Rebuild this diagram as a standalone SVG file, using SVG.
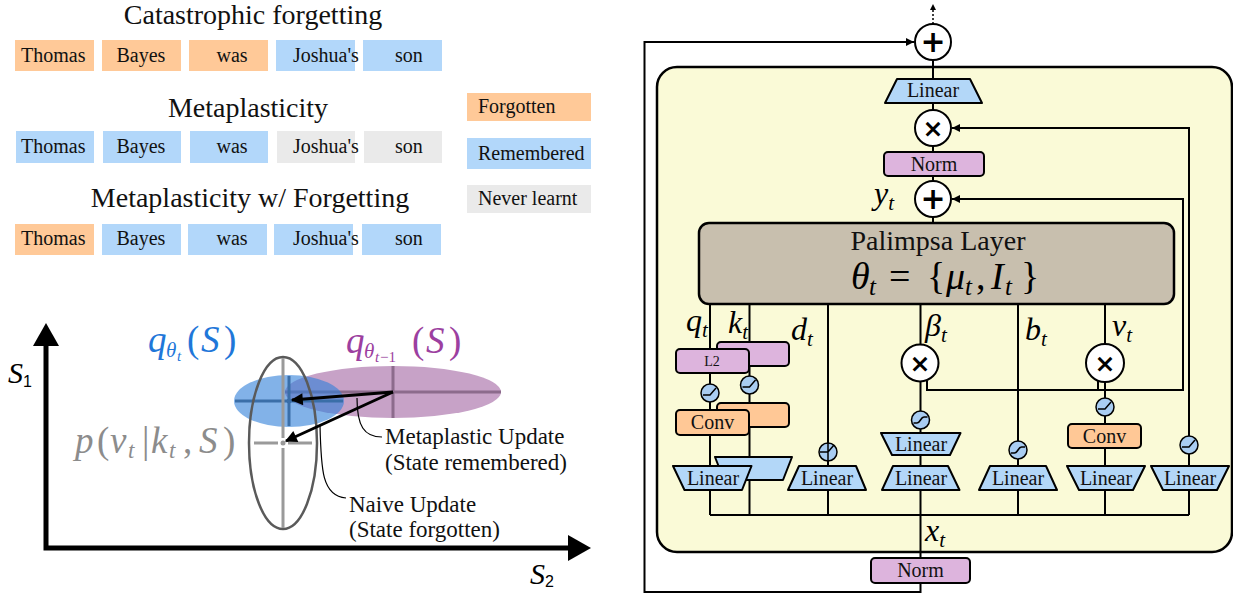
<svg xmlns="http://www.w3.org/2000/svg" width="1233" height="596" viewBox="0 0 1233 596">
<style>
.t{font-size:20px;fill:#111}
.ttl{font-size:28px;fill:#111;text-anchor:middle}
.or{fill:#FFC998}.bl{fill:#B2D7FA}.gr{fill:#EAEAEA}
.ln{stroke:#000;stroke-width:2;fill:none}
.lin{fill:#B3D7F8;stroke:#000;stroke-width:2;stroke-linejoin:round}
.nrm{fill:#DDB4DD;stroke:#000;stroke-width:2}
.cnv{fill:#FFC896;stroke:#000;stroke-width:2}
.op{fill:#fff;stroke:#000;stroke-width:2}
.act{fill:#A9CDF2;stroke:#000;stroke-width:1.5}
.gl{stroke:#000;stroke-width:1.5;fill:none}
.lb{font-size:20px;text-anchor:middle;fill:#111}
.sym{font-weight:bold;text-anchor:middle;fill:#000}
</style>
<defs>
<marker id="ah" viewBox="0 0 10 10" refX="10" refY="5" markerWidth="9" markerHeight="8" markerUnits="userSpaceOnUse" orient="auto"><path d="M0,0 L10,5 L0,10 z" fill="#000"/></marker>
<marker id="ahs" viewBox="0 0 10 10" refX="10" refY="5" markerWidth="6" markerHeight="6" markerUnits="userSpaceOnUse" orient="auto"><path d="M0,0 L10,5 L0,10 z" fill="#000"/></marker>
<marker id="ahb" viewBox="0 0 10 10" refX="9" refY="5" markerWidth="15" markerHeight="12" markerUnits="userSpaceOnUse" orient="auto"><path d="M0,0 L10,5 L0,10 z" fill="#000"/></marker>
</defs>

<!-- ===== Left: token rows ===== -->
<g id="title1"><text class="ttl" style="font-family:'Liberation Serif',serif" x="253" y="24">Catastrophic forgetting</text></g>
<g id="row1">
<rect class="or" x="15" y="40" width="79" height="31"/><rect class="or" x="102" y="40" width="79" height="31"/><rect class="or" x="189" y="40" width="79" height="31"/><rect class="bl" x="276" y="40" width="79" height="31"/><rect class="bl" x="363" y="40" width="79" height="31"/>
<text class="t" style="font-family:'Liberation Serif',serif" x="21" y="62">Thomas</text><text class="t" style="font-family:'Liberation Serif',serif" x="116.5" y="62">Bayes</text><text class="t" style="font-family:'Liberation Serif',serif" x="216.5" y="62">was</text><text class="t" style="font-family:'Liberation Serif',serif" x="293" y="62">Joshua's</text><text class="t" style="font-family:'Liberation Serif',serif" x="395" y="62">son</text>
</g>
<g id="title2"><text class="ttl" style="font-family:'Liberation Serif',serif" x="248" y="117">Metaplasticity</text></g>
<g id="row2">
<rect class="bl" x="16" y="131" width="78" height="32"/><rect class="bl" x="103" y="131" width="78" height="32"/><rect class="bl" x="190" y="131" width="78" height="32"/><rect class="gr" x="277" y="131" width="78" height="32"/><rect class="gr" x="364" y="131" width="78" height="32"/>
<text class="t" style="font-family:'Liberation Serif',serif" x="21" y="153">Thomas</text><text class="t" style="font-family:'Liberation Serif',serif" x="116.5" y="153">Bayes</text><text class="t" style="font-family:'Liberation Serif',serif" x="216.5" y="153">was</text><text class="t" style="font-family:'Liberation Serif',serif" x="293" y="153">Joshua's</text><text class="t" style="font-family:'Liberation Serif',serif" x="395" y="153">son</text>
</g>
<g id="title3"><text class="ttl" style="font-family:'Liberation Serif',serif" x="250" y="207">Metaplasticity w/ Forgetting</text></g>
<g id="row3">
<rect class="or" x="15" y="224" width="79" height="31"/><rect class="bl" x="102" y="224" width="79" height="31"/><rect class="bl" x="188" y="224" width="79" height="31"/><rect class="bl" x="274" y="224" width="79" height="31"/><rect class="bl" x="362" y="224" width="79" height="31"/>
<text class="t" style="font-family:'Liberation Serif',serif" x="21" y="245">Thomas</text><text class="t" style="font-family:'Liberation Serif',serif" x="116.5" y="245">Bayes</text><text class="t" style="font-family:'Liberation Serif',serif" x="216.5" y="245">was</text><text class="t" style="font-family:'Liberation Serif',serif" x="293" y="245">Joshua's</text><text class="t" style="font-family:'Liberation Serif',serif" x="395" y="245">son</text>
</g>
<g id="legend">
<rect class="or" x="467" y="93" width="124" height="28"/><text class="t" style="font-family:'Liberation Serif',serif" x="478" y="113">Forgotten</text>
<rect class="bl" x="467" y="138" width="124" height="31"/><text class="t" style="font-family:'Liberation Serif',serif" x="478" y="160">Remembered</text>
<rect class="gr" x="467" y="185" width="124" height="28"/><text class="t" style="font-family:'Liberation Serif',serif" x="478" y="205">Never learnt</text>
</g>

<!-- ===== Left: plot ===== -->
<g id="axes">
<path d="M46,346 V548 H568" stroke="#000" stroke-width="5" fill="none"/>
<polygon points="46,323 33,346 59,346" fill="#000"/>
<polygon points="591,548 568,535 568,561" fill="#000"/>
<text style="font-family:'Liberation Serif',serif;font-style:italic" x="8" y="383" font-size="30">S<tspan style="font-family:'Liberation Sans',sans-serif;font-style:normal" font-size="16" dy="4">1</tspan></text>
<text style="font-family:'Liberation Serif',serif;font-style:italic" x="530" y="584" font-size="30">S<tspan style="font-family:'Liberation Sans',sans-serif;font-style:normal" font-size="16" dy="3">2</tspan></text>
</g>
<g id="q_prev">
<ellipse cx="393" cy="392" rx="108" ry="26" fill="#C7A2C7"/>
<path d="M285,392 H501 M393,366 V418" stroke="#8C6B8C" stroke-width="3"/>
</g>
<g id="q_t">
<ellipse cx="289" cy="401" rx="55" ry="26" fill="#2E7FD9" fill-opacity="0.6"/>
<path d="M235,401 H343 M289,376 V426" stroke="#3A6EA8" stroke-width="3"/>
<circle cx="289" cy="401" r="2.5" fill="#3A6EA8"/>
</g>
<g id="likelihood">
<ellipse cx="283" cy="443" rx="34" ry="86" fill="none" stroke="#5A5A5A" stroke-width="2.5"/>
<path d="M283,358 V438 M283,448 V528 M254,443 H278 M288,443 H312" stroke="#9A9A9A" stroke-width="3"/>
<circle cx="283" cy="443" r="2.5" fill="#9A9A9A"/>
</g>
<g id="plot-labels">
<text style="font-family:'Liberation Serif',serif;font-style:italic" y="352" font-size="37" fill="#1F77D9"><tspan x="148">q</tspan><tspan x="166" font-size="21" dy="5">θ</tspan><tspan x="177" font-size="15" dy="4">t</tspan><tspan style="font-style:normal" x="187" dy="-9">(</tspan><tspan x="201">S</tspan><tspan style="font-style:normal" x="224">)</tspan></text>
<text style="font-family:'Liberation Serif',serif;font-style:italic" y="353" font-size="37" fill="#9C3FA0"><tspan x="346">q</tspan><tspan x="364" font-size="21" dy="5">θ</tspan><tspan x="375" font-size="15" dy="4">t</tspan><tspan style="font-style:normal" x="380" font-size="15">−1</tspan><tspan style="font-style:normal" x="412" dy="-9">(</tspan><tspan x="426">S</tspan><tspan style="font-style:normal" x="449">)</tspan></text>
<text style="font-family:'Liberation Serif',serif;font-style:italic" y="453" font-size="37" fill="#8C8C8C"><tspan x="75">p</tspan><tspan style="font-style:normal" x="97">(</tspan><tspan x="110">v</tspan><tspan x="128" font-size="23" dy="5">t</tspan><tspan style="font-style:normal" x="142" dy="-5">|</tspan><tspan x="151">k</tspan><tspan x="169" font-size="23" dy="5">t</tspan><tspan style="font-style:normal" x="183" dy="-5">,</tspan><tspan x="199">S</tspan><tspan style="font-style:normal" x="223">)</tspan></text>
<text class="t" style="font-family:'Liberation Serif',serif;font-size:23px" x="385" y="444">Metaplastic Update</text>
<text class="t" style="font-family:'Liberation Serif',serif;font-size:23px" x="385" y="470">(State remembered)</text>
<text class="t" style="font-family:'Liberation Serif',serif;font-size:23px" x="349" y="512">Naive Update</text>
<text class="t" style="font-family:'Liberation Serif',serif;font-size:23px" x="349" y="537">(State forgotten)</text>
</g>
<g id="plot-connectors">
<line x1="393" y1="392" x2="292" y2="400" stroke="#000" stroke-width="3" marker-end="url(#ahb)"/>
<line x1="393" y1="392" x2="286" y2="441" stroke="#000" stroke-width="3" marker-end="url(#ahb)"/>
<path d="M357,398 C357,426 364,437 382,437" stroke="#000" stroke-width="1.2" fill="none"/>
<path d="M320,425 C321,470 322,496 346,498" stroke="#000" stroke-width="1.2" fill="none"/>
</g>

<!-- ===== Right: architecture ===== -->
<g id="panel"><rect x="657" y="67" width="575" height="485" rx="20" fill="#FAFAD7" stroke="#000" stroke-width="2.5"/></g>

<g id="connectors">
<path class="ln" d="M920.5,583 V592 H644.5 V42 H914" stroke-width="1.8" marker-end="url(#ah)"/>
<line x1="933" y1="24" x2="933" y2="4" stroke="#000" stroke-width="1.5" stroke-dasharray="2,2" marker-end="url(#ahs)"/>
<path class="ln" d="M933,60 V79 M933,103 V110 M933,146 V152 M933,176 V181 M933,217 V223"/>
<path class="ln" d="M1189,436 V128 H952" marker-end="url(#ah)"/>
<path class="ln" d="M927,381 V390 H1183 V199 H952" marker-end="url(#ah)"/>
<path class="ln" d="M1098,381 V390"/>
<path class="ln" d="M749.5,304 V342 M749.5,366 V376 M749.5,394 V403 M749.5,427 V457 M749.5,480 V515"/>
<path class="ln" d="M710,304 V349 M710,373 V384 M710,402 V410 M710,435 V466 M710,490 V515"/>
<path class="ln" d="M828,304 V515"/>
<path class="ln" d="M920.5,304 V345 M920.5,382 V411 M920.5,429 V433 M920.5,455 V466 M920.5,490 V558"/>
<path class="ln" d="M1018,304 V515"/>
<path class="ln" d="M1105,304 V344 M1105,382 V398 M1105,416 V424 M1105,448 V466 M1105,490 V515"/>
<path class="ln" d="M1189,454 V466 M1189,490 V515"/>
<path class="ln" d="M710,515 H1189"/>
</g>

<g id="out-plus"><circle class="op" cx="933" cy="42" r="18"/><text class="sym" style="font-family:'DejaVu Sans',sans-serif" x="933" y="52" font-size="30">+</text></g>
<g id="out-linear"><polygon class="lin" points="897,79 970,79 982,103 885,103"/><text class="lb" style="font-family:'Liberation Serif',serif" x="933" y="97">Linear</text></g>
<g id="gate-mul"><circle class="op" cx="933" cy="128" r="18"/><text class="sym" style="font-family:'DejaVu Sans',sans-serif" x="933" y="137" font-size="25">×</text></g>
<g id="out-norm"><rect class="nrm" x="884" y="152" width="100" height="24" rx="4"/><text class="lb" style="font-family:'Liberation Serif',serif" x="934" y="171">Norm</text></g>
<g id="y-plus"><circle class="op" cx="933" cy="199" r="18"/><text class="sym" style="font-family:'DejaVu Sans',sans-serif" x="933" y="209" font-size="30">+</text>
<text style="font-family:'Liberation Serif',serif;font-style:italic" x="874" y="204" font-size="32">y<tspan font-size="21" dy="6">t</tspan></text></g>
<g id="palimpsa">
<rect x="699" y="223" width="475" height="81" rx="10" fill="#C8BFAE" stroke="#000" stroke-width="2.5"/>
<text class="ttl" style="font-family:'Liberation Serif',serif" x="938" y="250">Palimpsa Layer</text>
<text style="font-family:'Liberation Serif',serif;font-style:italic" y="289" font-size="38"><tspan x="851">θ</tspan><tspan x="869" font-size="25" dy="6">t</tspan><tspan style="font-style:normal" x="889" dy="-6">=</tspan><tspan style="font-style:normal" x="927">{</tspan><tspan x="946">μ</tspan><tspan x="965" font-size="25" dy="6">t</tspan><tspan style="font-style:normal" x="976" dy="-6">,</tspan><tspan x="991">I</tspan><tspan x="1005" font-size="25" dy="6">t</tspan><tspan style="font-style:normal" x="1021" dy="-6">}</tspan></text>
</g>

<g id="k-branch">
<text style="font-family:'Liberation Serif',serif;font-style:italic" x="728" y="333" font-size="32">k<tspan font-size="21" dy="6">t</tspan></text>
<rect class="nrm" x="717" y="342" width="72" height="24" rx="4"/>
<circle class="act" cx="749.5" cy="385" r="9"/><path class="gl" d="M742.5,387 H749.5 L755.5,380"/>
<rect class="cnv" x="717" y="403" width="72" height="24" rx="4"/>
<polygon class="lin" points="715,457 792,457 783,480 724,480"/>
</g>
<g id="q-branch">
<text style="font-family:'Liberation Serif',serif;font-style:italic" x="686" y="331" font-size="32">q<tspan font-size="21" dy="6">t</tspan></text>
<rect class="nrm" x="676" y="349" width="73" height="24" rx="4"/><text class="lb" style="font-family:'Liberation Serif',serif;font-size:14px" x="712" y="366">L2</text>
<circle class="act" cx="710" cy="393" r="9"/><path class="gl" d="M703,395 H710 L716,388"/>
<rect class="cnv" x="676" y="410" width="73" height="25" rx="4"/><text class="lb" style="font-family:'Liberation Serif',serif" x="712.5" y="429">Conv</text>
<polygon class="lin" points="673,466 751.5,466 742,490 684.5,490"/><text class="lb" style="font-family:'Liberation Serif',serif" x="713" y="485">Linear</text>
</g>
<g id="d-branch">
<text style="font-family:'Liberation Serif',serif;font-style:italic" x="791" y="340" font-size="32">d<tspan font-size="21" dy="6">t</tspan></text>
<circle class="act" cx="828" cy="452" r="9"/><path class="gl" d="M828,443 V461 M820,452 H828 L834,445"/>
<polygon class="lin" points="799,466 856,466 866,490 788,490"/><text class="lb" style="font-family:'Liberation Serif',serif" x="827" y="485">Linear</text>
</g>
<g id="beta-branch">
<text style="font-family:'Liberation Serif',serif;font-style:italic" x="925" y="336" font-size="32">β<tspan font-size="21" dy="6">t</tspan></text>
<circle class="op" cx="920" cy="363" r="18.5"/><text class="sym" style="font-family:'DejaVu Sans',sans-serif" x="920" y="372" font-size="25">×</text>
<circle class="act" cx="920.5" cy="420" r="9"/><path class="gl" d="M913.5,423 H917 C920.5,423 920.5,417 924,417 H927.5"/>
<polygon class="lin" points="881,433 960.5,433 950,455 892,455"/><text class="lb" style="font-family:'Liberation Serif',serif" x="921" y="451">Linear</text>
<polygon class="lin" points="893,466 948,466 959.5,490 882,490"/><text class="lb" style="font-family:'Liberation Serif',serif" x="921" y="485">Linear</text>
</g>
<g id="b-branch">
<text style="font-family:'Liberation Serif',serif;font-style:italic" x="1025" y="340" font-size="32">b<tspan font-size="21" dy="6">t</tspan></text>
<circle class="act" cx="1018" cy="450" r="9"/><path class="gl" d="M1011,453 H1014.5 C1018,453 1018,447 1021.5,447 H1025"/>
<polygon class="lin" points="990,466 1046,466 1057,490 979,490"/><text class="lb" style="font-family:'Liberation Serif',serif" x="1018" y="485">Linear</text>
</g>
<g id="v-branch">
<text style="font-family:'Liberation Serif',serif;font-style:italic" x="1112" y="336" font-size="32">v<tspan font-size="21" dy="6">t</tspan></text>
<circle class="op" cx="1105" cy="363" r="19"/><text class="sym" style="font-family:'DejaVu Sans',sans-serif" x="1105" y="372" font-size="25">×</text>
<circle class="act" cx="1105" cy="407" r="9"/><path class="gl" d="M1098,409 H1105 L1111,402"/>
<rect class="cnv" x="1068" y="424" width="73" height="24" rx="4"/><text class="lb" style="font-family:'Liberation Serif',serif" x="1104.5" y="443">Conv</text>
<polygon class="lin" points="1067,466 1145,466 1133,490 1079,490"/><text class="lb" style="font-family:'Liberation Serif',serif" x="1106" y="485">Linear</text>
</g>
<g id="gate-branch">
<circle class="act" cx="1189" cy="445" r="9"/><path class="gl" d="M1182,447 H1189 L1195,440"/>
<polygon class="lin" points="1151,466 1229,466 1217,490 1163,490"/><text class="lb" style="font-family:'Liberation Serif',serif" x="1190" y="485">Linear</text>
</g>
<g id="input">
<text style="font-family:'Liberation Serif',serif;font-style:italic" x="925" y="541" font-size="32">x<tspan font-size="21" dy="6">t</tspan></text>
<rect class="nrm" x="871" y="558" width="99" height="25" rx="4"/><text class="lb" style="font-family:'Liberation Serif',serif" x="920.5" y="577">Norm</text>
</g>
</svg>
